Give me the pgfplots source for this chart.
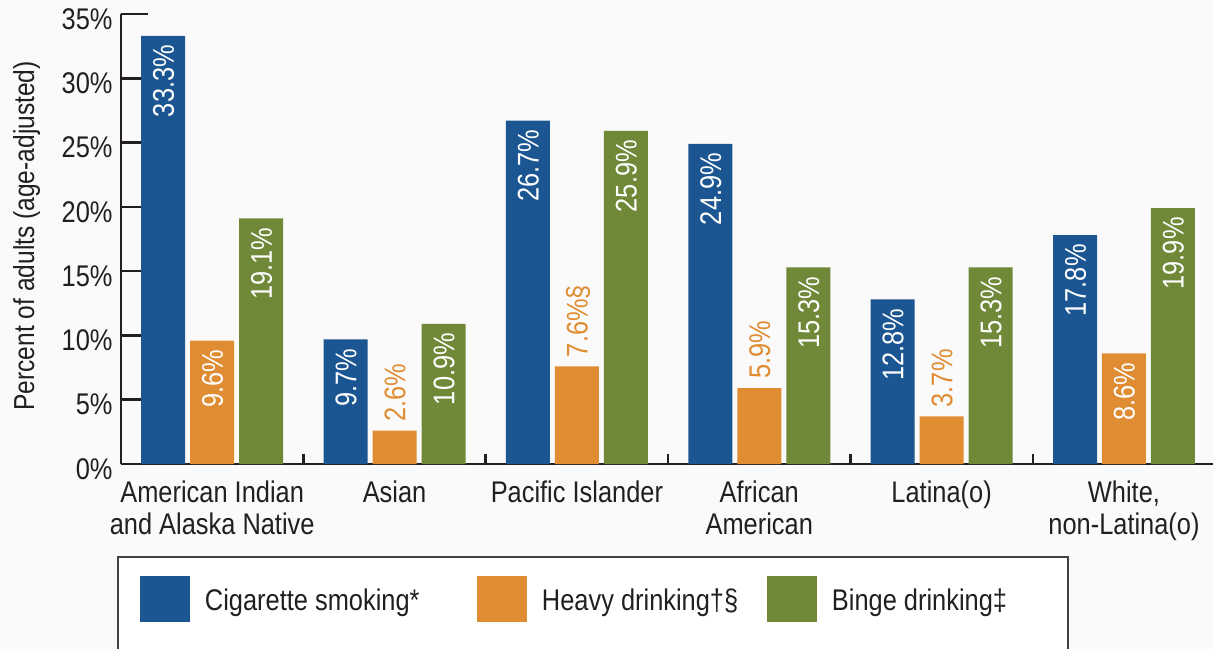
\documentclass[border=0pt]{standalone}
\usepackage{pgfplots}
\pgfplotsset{compat=1.18}
\usepackage{fontspec}
\setmainfont{Liberation Sans}[FakeStretch=0.85]
\definecolor{cblue}{HTML}{1B5692}
\definecolor{corange}{HTML}{E08C32}
\definecolor{cgreen}{HTML}{6F8938}
\definecolor{ctext}{HTML}{231F20}
\definecolor{bg}{HTML}{FAFAFA}
\newcommand{\F}{\fontsize{30}{32}\selectfont}
\pgfplotsset{
  inlab/.style={nodes near coords, point meta=explicit symbolic,
    every node near coord/.style={rotate=90, anchor=east, text=white, font=\F,
      inner xsep=9bp, inner ysep=0pt, text height=21.5bp, text depth=0pt}},
  outlab/.style={nodes near coords, point meta=explicit symbolic,
    every node near coord/.style={rotate=90, anchor=west, text=corange, font=\F,
      inner xsep=9bp, inner ysep=0pt, text height=21.5bp, text depth=0pt}},
}
\begin{document}
\begin{tikzpicture}
\path[use as bounding box, fill=bg] (-121bp,-185bp) rectangle (1092bp,464bp);
\draw[line width=2bp, draw=ctext!85, fill=white] (-3bp,-93bp) rectangle (947bp,-260bp);
\node[text=white, font=\fontsize{11}{12}\selectfont, anchor=west, inner sep=0pt] at (-109bp,-121bp) {*†‡§};
\begin{axis}[
  scale only axis, width=1092bp, height=450bp,
  xmin=-0.5, xmax=5.488, ymin=0, ymax=35,
  axis lines*=left,
  axis line style={-, line width=2.5bp, draw=ctext},
  clip=false,
  xtick={0,...,5},
  xticklabels={{American Indian\\and Alaska Native},Asian,Pacific Islander,{African\\American},Latina(o),{White,\\non-Latina(o)}},
  xticklabel style={align=center, font=\F, text=ctext, yshift=-13bp},
  major x tick style={draw=none},
  minor xtick={0.5,1.5,2.5,3.5,4.5},
  minor x tick style={line width=2.5bp, draw=ctext},
  major tick length=27bp, minor tick length=10bp,
  ytick={0,5,...,35},
  yticklabels={0\%,5\%,10\%,15\%,20\%,25\%,30\%,35\%},
  ytick style={line width=2.5bp, draw=ctext},
  yticklabel style={font=\F, text=ctext, xshift=-5bp, yshift=-5bp},
  ylabel={Percent of adults (age-adjusted)},
  ylabel style={font=\fontsize{29}{32}\selectfont, text=ctext, at={(axis description cs:-0.0989,0.507)}, anchor=north, inner sep=0pt},
  legend columns=3,
  legend style={draw=none, fill=none, inner sep=0pt, outer sep=0pt,
    at={(axis description cs:0.0174,-0.3022)}, anchor=base west,
    font=\F, text=ctext,
    nodes={inner sep=0pt, outer sep=0pt},
    /tikz/column sep=0pt,
    /tikz/every odd column/.append style={column sep=15bp},
    /tikz/every even column/.append style={column sep=0pt}},
]
\addplot[ybar, bar width=44bp, bar shift=0bp, fill=cblue, draw=none, inlab,
  legend image code/.code={\fill[cblue] (0bp,-22bp) rectangle (50bp,24bp);}]
  coordinates {(-0.2686,33.3) [33.3\%] (0.7314,9.7) [9.7\%] (1.7314,26.7) [26.7\%] (2.7314,24.9) [24.9\%] (3.7314,12.8) [12.8\%] (4.7314,17.8) [17.8\%]};
\addlegendentry{\makebox[272bp][l]{Cigarette smoking*}}
\addplot[ybar, bar width=44bp, bar shift=0bp, fill=corange, draw=none, inlab,
  legend image code/.code={\fill[corange] (0bp,-22bp) rectangle (50bp,24bp);}]
  coordinates {(0,9.6) [9.6\%] (5,8.6) [8.6\%]};
\addlegendentry{\makebox[225bp][l]{Heavy drinking†§}}
\addplot[ybar, bar width=44bp, bar shift=0bp, fill=cgreen, draw=none, inlab,
  legend image code/.code={\fill[cgreen] (0bp,-22bp) rectangle (50bp,24bp);}]
  coordinates {(0.2686,19.1) [19.1\%] (1.2686,10.9) [10.9\%] (2.2686,25.9) [25.9\%] (3.2686,15.3) [15.3\%] (4.2686,15.3) [15.3\%] (5.2686,19.9) [19.9\%]};
\addlegendentry{Binge drinking‡}
\addplot[forget plot, ybar, bar width=44bp, bar shift=0bp, fill=corange, draw=none, outlab]
  coordinates {(1,2.6) [2.6\%] (2,7.6) [7.6\%§] (3,5.9) [5.9\%] (4,3.7) [3.7\%]};
\end{axis}
\end{tikzpicture}
\end{document}
